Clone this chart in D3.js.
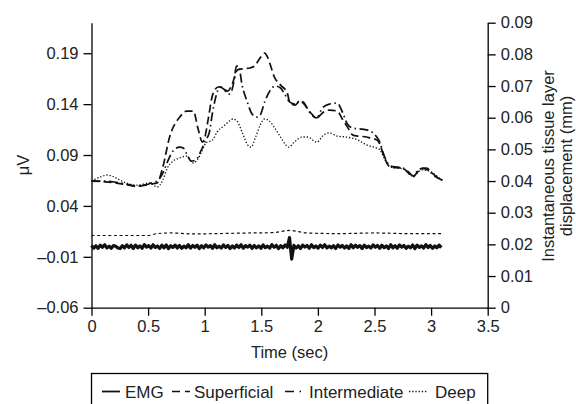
<!DOCTYPE html>
<html>
<head>
<meta charset="utf-8">
<script src="https://cdn.jsdelivr.net/npm/d3@7"></script>
<style>
  body { margin: 0; background: #fff; }
  svg { font-family: "Liberation Sans", Arial, Helvetica, sans-serif; }
  .axis path, .axis line { stroke: #000; stroke-width: 1.3; }
  .axis text { font-size: 16.5px; fill: #222; }
</style>
</head>
<body>
<svg id="chart" width="576" height="404"></svg>
<script>
// time axis ticks and value ticks
const timeTicks = [0, 0.5, 1, 1.5, 2, 2.5, 3, 3.5];
const leftTicks = [-0.06, -0.01, 0.04, 0.09, 0.14, 0.19];
const rightTicks = [0, 0.01, 0.02, 0.03, 0.04, 0.05, 0.06, 0.07, 0.08, 0.09];

// Superficial layer displacement (mm)
const supT = [0,0.1,0.2,0.3,0.4,0.47,0.53,0.58,0.63,0.69,0.78,0.84,0.9,0.94,0.98,1.0,1.03,1.07,1.12,1.15,1.2,1.24,1.29,1.33,1.4,1.44,1.49,1.53,1.55,1.62,1.67,1.73,1.75,1.8,1.84,1.87,1.93,1.99,2.04,2.1,2.17,2.22,2.26,2.31,2.35,2.43,2.46,2.52,2.55,2.58,2.64,2.75,2.8,2.84,2.88,2.96,3.01,3.05,3.1];
const supV = [0.0400,0.0398,0.0395,0.0389,0.0383,0.0387,0.0391,0.0394,0.0444,0.0539,0.0602,0.0621,0.0621,0.0567,0.0523,0.0536,0.0593,0.0672,0.0697,0.0697,0.0684,0.0703,0.0751,0.0754,0.0757,0.0763,0.0789,0.0804,0.0795,0.0725,0.0703,0.0678,0.0650,0.0640,0.0653,0.0646,0.0618,0.0599,0.0615,0.0624,0.0621,0.0593,0.0571,0.0545,0.0542,0.0539,0.0536,0.0530,0.0514,0.0482,0.0444,0.0441,0.0425,0.0413,0.0429,0.0441,0.0425,0.0413,0.0403];

// Intermediate layer
const intT = [0,0.1,0.2,0.3,0.4,0.47,0.53,0.58,0.63,0.67,0.72,0.78,0.81,0.85,0.88,0.92,0.97,1.01,1.04,1.07,1.11,1.13,1.17,1.21,1.24,1.26,1.28,1.3,1.33,1.37,1.42,1.46,1.49,1.53,1.58,1.62,1.67,1.71,1.75,1.8,1.84,1.87,1.93,1.99,2.04,2.1,2.17,2.22,2.26,2.31,2.39,2.46,2.52,2.55,2.58,2.64,2.7,2.75,2.8,2.84,2.88,2.93,2.98,3.03,3.1];
const intV = [0.0400,0.0400,0.0397,0.0391,0.0384,0.0387,0.0394,0.0400,0.0425,0.0460,0.0495,0.0507,0.0504,0.0479,0.0463,0.0466,0.0498,0.0530,0.0552,0.0618,0.0681,0.0697,0.0690,0.0674,0.0687,0.0719,0.0763,0.0763,0.0703,0.0656,0.0611,0.0602,0.0608,0.0650,0.0687,0.0700,0.0694,0.0672,0.0650,0.0643,0.0653,0.0650,0.0615,0.0599,0.0631,0.0643,0.0646,0.0615,0.0580,0.0567,0.0564,0.0558,0.0539,0.0520,0.0485,0.0448,0.0444,0.0441,0.0429,0.0416,0.0432,0.0441,0.0432,0.0416,0.0403];

// Deep layer
const deepT = [0,0.08,0.14,0.2,0.25,0.4,0.52,0.58,0.63,0.67,0.72,0.78,0.84,0.87,0.9,0.94,0.98,1.01,1.07,1.11,1.17,1.22,1.25,1.29,1.33,1.38,1.41,1.45,1.49,1.53,1.57,1.62,1.67,1.71,1.74,1.8,1.86,1.91,1.99,2.05,2.1,2.17,2.25,2.35,2.43,2.52,2.55,2.58,2.64,2.75,2.84,2.92,3.0,3.05,3.1];
const deepV = [0.0400,0.0413,0.0419,0.0413,0.0403,0.0387,0.0394,0.0381,0.0403,0.0441,0.0463,0.0473,0.0479,0.0466,0.0457,0.0470,0.0498,0.0520,0.0530,0.0555,0.0574,0.0590,0.0596,0.0587,0.0555,0.0514,0.0507,0.0539,0.0577,0.0596,0.0590,0.0567,0.0539,0.0517,0.0507,0.0526,0.0539,0.0539,0.0523,0.0545,0.0552,0.0542,0.0539,0.0530,0.0514,0.0504,0.0498,0.0476,0.0444,0.0438,0.0416,0.0435,0.0429,0.0416,0.0400];

// short dashed trace near the bottom (no legend entry)
const lowT = [0,0.5,0.58,0.7,0.9,1.1,1.4,1.6,1.75,1.9,2.2,2.5,2.8,3.1];
const lowV = [0.0228,0.0228,0.0234,0.0236,0.0233,0.0234,0.0236,0.0237,0.0244,0.0236,0.0234,0.0236,0.0234,0.0234];

// EMG (uV), sampled evenly over 0 - 3.09 s
const emgEnd = 3.09;
const emgV = [
  0.0012,-0.0015,0.0008,-0.0017,0.0014,-0.0006,0.0018,-0.0013,0.0005,-0.0016,
  0.0011,0.0004,-0.0014,-0.0019,0.0009,-0.0012,0.0017,-0.0007,0.0013,-0.0018,
  0.0015,-0.0011,0.0007,-0.0016,0.0019,-0.0005,0.001,-0.0014,0.0018,-0.0009,
  0.0006,-0.0017,0.0013,-0.0012,0.0016,-0.0019,0.0009,-0.0008,0.0015,-0.0013,
  0.0012,-0.0016,0.0005,-0.0011,0.0018,-0.0015,0.0011,-0.0007,0.0014,-0.0019,
  0.0009,-0.0012,0.0016,-0.0005,0.001,-0.0017,0.0019,-0.0011,0.0004,-0.0014,
  0.0017,-0.0009,0.0012,-0.0018,0.0006,-0.0013,0.0015,-0.0008,0.0018,-0.0016,
  0.001,-0.0005,0.0014,-0.0017,0.0011,-0.0012,0.0007,-0.0016,0.0017,-0.001,
  0.0005,-0.0015,0.0019,-0.0007,0.0013,-0.0019,0.0009,-0.0011,0.0016,-0.0006,
  0.0088,-0.0122,0.0012,-0.0014,0.0008,-0.0018,0.0015,-0.0004,0.0011,-0.0016,
  0.0018,-0.001,0.0006,-0.0015,0.0014,-0.0008,0.0019,-0.0013,0.0005,-0.0012,
  0.0009,-0.0018,0.0016,-0.0005,0.0012,-0.0014,0.0007,-0.0017,0.0018,-0.0011,
  0.0014,-0.0007,0.001,-0.0019,0.0015,-0.0009,0.0005,-0.0014,0.0017,-0.0006,
  0.0011,-0.0016,0.0014,-0.001,0.0007,-0.0018,0.0018,-0.0012,0.0009,-0.0015,
  0.0016,-0.0005,0.0012,-0.0017,0.0004,-0.0011,0.0016,-0.0019,0.0014,-0.0008,
  0.0007,-0.0013,0.0019,-0.0009,0.0011,-0.0016,0.0006,-0.0012,0.0015,-0.001
];

// legend names and their dash styles
const legendNames = ["EMG", "Superficial", "Intermediate", "Deep"];
const legendDashes = [null, "8,5", "9,5.5,1.5,5.5", "1.3,1.9"];

const svg = d3.select("#chart");
const plotLeft = 91.5, plotRight = 487.7, plotTop = 22.7, plotBottom = 307.7;

const x = d3.scaleLinear().domain([0, 3.5]).range([plotLeft, plotRight]);
const yL = d3.scaleLinear().domain([-0.06, 0.22]).range([plotBottom, plotTop]);
const yR = d3.scaleLinear().domain([0, 0.09]).range([plotBottom, plotTop]);

const fmtDash = v => d3.format(".2f")(v).replace("-", "\u2013").replace("\u2212", "\u2013");

svg.append("g").attr("class", "axis")
  .attr("transform", `translate(0,${plotBottom})`)
  .call(d3.axisBottom(x).tickValues(timeTicks).tickSize(8).tickPadding(5)
    .tickFormat(d => String(d)).tickSizeOuter(0));

svg.append("g").attr("class", "axis")
  .attr("transform", `translate(${plotLeft},0)`)
  .call(d3.axisLeft(yL).tickValues(leftTicks).tickSize(8).tickPadding(5)
    .tickFormat(fmtDash).tickSizeOuter(0));

svg.append("g").attr("class", "axis")
  .attr("transform", `translate(${plotRight},0)`)
  .call(d3.axisRight(yR).tickValues(rightTicks).tickSize(8).tickPadding(5)
    .tickFormat(d => d === 0 ? "0" : d3.format(".2f")(d)).tickSizeOuter(0));

function drawSeries(ts, vs, yScale, dash, width, curve) {
  const pts = ts.map((t, i) => [t, vs[i]]);
  const line = d3.line().x(d => x(d[0])).y(d => yScale(d[1])).curve(curve || d3.curveMonotoneX);
  svg.append("path").datum(pts)
    .attr("d", line)
    .attr("fill", "none")
    .attr("stroke", "#111")
    .attr("stroke-width", width)
    .attr("stroke-linejoin", "round")
    .attr("stroke-dasharray", dash);
}

const emgT = emgV.map((v, i) => i * emgEnd / (emgV.length - 1));
drawSeries(emgT, emgV, yL, null, 3.2, d3.curveLinear);
drawSeries(lowT, lowV, yR, "3,2.6", 1.2);
drawSeries(deepT, deepV, yR, "1.3,1.9", 1.3);
drawSeries(intT, intV, yR, "9,3.5,1.5,3.5", 1.7);
drawSeries(supT, supV, yR, "8,4", 1.7);

// axis titles
svg.append("text").attr("transform", "translate(29,165) rotate(-90)")
  .attr("text-anchor", "middle").attr("font-size", 16.5).attr("fill", "#222").text("\u03bcV");
svg.append("text").attr("transform", "translate(554,166) rotate(-90)")
  .attr("text-anchor", "middle").attr("font-size", 16.5).attr("fill", "#222").text("Instantaneous tissue layer");
svg.append("text").attr("transform", "translate(572,166) rotate(-90)")
  .attr("text-anchor", "middle").attr("font-size", 16.5).attr("fill", "#222").text("displacement (mm)");
svg.append("text").attr("x", (plotLeft + plotRight) / 2).attr("y", 358)
  .attr("text-anchor", "middle").attr("font-size", 16.5).attr("fill", "#222").text("Time (sec)");

// legend
const legendLineX = [102, 172, 285, 409];
const legendLineLen = [18, 18, 16, 19];
const legendTextX = [125, 194, 309, 435];
svg.append("rect").attr("x", plotLeft).attr("y", 373.5).attr("width", plotRight - plotLeft).attr("height", 40)
  .attr("fill", "none").attr("stroke", "#000").attr("stroke-width", 1.3);
const lg = svg.append("g").selectAll("g").data(legendNames).join("g");
lg.append("line")
  .attr("x1", (d, i) => legendLineX[i]).attr("x2", (d, i) => legendLineX[i] + legendLineLen[i])
  .attr("y1", 391.5).attr("y2", 391.5)
  .attr("stroke", "#111").attr("stroke-width", (d, i) => legendDashes[i] ? 1.7 : 1.8)
  .attr("stroke-dasharray", (d, i) => legendDashes[i]);
lg.append("text")
  .attr("x", (d, i) => legendTextX[i]).attr("y", 398)
  .attr("font-size", 17).attr("fill", "#222")
  .text(d => d);
</script>
</body>
</html>
